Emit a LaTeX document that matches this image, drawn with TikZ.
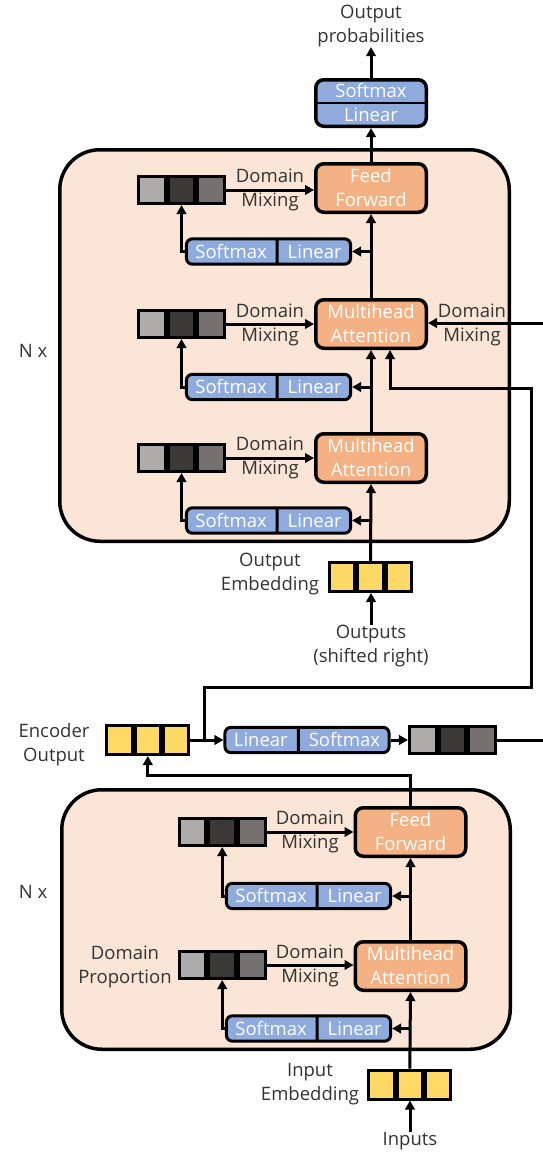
\documentclass[tikz,border=0pt]{standalone}
\usepackage{fontspec}
\setmainfont{Open Sans}
\usetikzlibrary{arrows.meta, positioning, shapes.multipart}

\definecolor{PeachBg}{HTML}{FBE5D6}
\definecolor{BlockBlue}{HTML}{8FAADC}
\definecolor{BlockOrange}{HTML}{F4B183}
\definecolor{EmbYellow}{HTML}{FFD966}
\definecolor{CellLight}{HTML}{AEABAB}
\definecolor{CellDark}{HTML}{3B3838}
\definecolor{CellMid}{HTML}{767171}
\definecolor{TextGray}{HTML}{333333}

\tikzset{
  layerbox/.style={draw, line width=3.5pt, fill=PeachBg, rounded corners=40pt},
  opbox/.style={draw, line width=3.5pt, fill=BlockOrange, rounded corners=8pt, minimum width=110.5pt, minimum height=48.5pt, text=white, align=center, inner sep=0pt},
  slbox/.style={rectangle split, rectangle split horizontal, rectangle split parts=2, rectangle split part align=base, draw, line width=3pt, fill=BlockBlue, rounded corners=6pt, text=white, inner xsep=9pt, inner ysep=5.5pt},
  divider/.style={line width=2pt},
  cell/.style={draw, line width=3pt, minimum width=26.7pt, minimum height=27pt, inner sep=0pt},
  ycell/.style={cell, fill=EmbYellow, minimum width=25.3pt, minimum height=29pt},
  lbl/.style={align=center, text=TextGray, inner sep=0pt},
  arr/.style={-{Triangle[length=9pt, width=9.5pt]}, line width=3pt},
  wire/.style={line width=3pt}
}

\begin{document}
\begin{tikzpicture}[x=1pt, y=-1pt, every node/.style={font=\fontsize{18.5}{24}\selectfont}]
  \useasboundingbox (0,0) rectangle (542,1152);

  % stacks
  \draw[layerbox] (59.75,149.75) rectangle (509.25,541.25);
  \draw[layerbox] (61.75,789.75) rectangle (510.25,1049.25);
  \node[lbl] (decn) at (33,351) {N x};
  \node[lbl] (encn) at (33,892) {N x};

  % decoder
  \node[lbl] (outprob) at (371,26) {Output\\probabilities};
  \node[opbox, fill=BlockBlue, minimum height=46.5pt] (tp) at (371,103) {Softmax\\Linear};
  \draw[divider] (tp.west) -- (tp.east);

  \node[opbox] (ff3) at (371,188) {Feed\\Forward};
  \node[cell, fill=CellLight] (g3a) at (151.8,190) {};
  \node[cell, fill=CellDark, right=0pt of g3a] (g3b) {};
  \node[cell, fill=CellMid, right=0pt of g3b] (g3c) {};
  \node[lbl] (dm3) at (270,190) {Domain\\Mixing};
  \node[slbox] (sl3) at (268.5,251.5) {Softmax\nodepart{two}Linear};

  \node[opbox] (ma2) at (371,324) {Multihead\\Attention};
  \node[cell, fill=CellLight] (g2a) at (151.8,324) {};
  \node[cell, fill=CellDark, right=0pt of g2a] (g2b) {};
  \node[cell, fill=CellMid, right=0pt of g2b] (g2c) {};
  \node[lbl] (dm2) at (270,325) {Domain\\Mixing};
  \node[lbl] (dm2r) at (472,325) {Domain\\Mixing};
  \node[slbox] (sl2) at (268.5,387) {Softmax\nodepart{two}Linear};

  \node[opbox] (ma1) at (371,458) {Multihead\\Attention};
  \node[cell, fill=CellLight] (g1a) at (151.8,458) {};
  \node[cell, fill=CellDark, right=0pt of g1a] (g1b) {};
  \node[cell, fill=CellMid, right=0pt of g1b] (g1c) {};
  \node[lbl] (dm1) at (270,458) {Domain\\Mixing};
  \node[slbox] (sl1) at (268.5,520.5) {Softmax\nodepart{two}Linear};

  \node[ycell] (oea) at (342.2,577) {};
  \node[ycell, right=0pt of oea] (oeb) {};
  \node[ycell, right=0pt of oeb] (oec) {};
  \node[lbl] (oelbl) at (270,574) {Output\\Embedding};
  \node[lbl] (outs) at (371,646) {Outputs\\(shifted right)};

  \draw[arr] (outs.north) -- (outs.north |- oeb.south);
  \draw[arr] (oeb.north) -- (ma1.south);
  \draw[arr] (ma1.north) -- (ma2.south);
  \draw[arr] (ma2.north) -- (ff3.south);
  \draw[arr] (ff3.north) -- (tp.south);
  \draw[arr] (tp.north) -- (outprob.south);
  \draw[arr] (g3c.east) -- (g3c.east -| ff3.west);
  \draw[arr] (g2c.east) -- (g2c.east -| ma2.west);
  \draw[arr] (g1c.east) -- (g1c.east -| ma1.west);
  \draw[arr] (sl3.east -| ff3.south) -- (sl3.east);
  \draw[arr] (sl2.east -| ma2.south) -- (sl2.east);
  \draw[arr] (sl1.east -| ma1.south) -- (sl1.east);
  \draw[arr] (sl3.west) -| (g3b.south);
  \draw[arr] (sl2.west) -| (g2b.south);
  \draw[arr] (sl1.west) -| (g1b.south);
  \coordinate (decin) at (544,323);
  \draw[arr] (decin) -- (decin -| ma2.east);

  % encoder output
  \node[ycell] (eoa) at (119.5,740) {};
  \node[ycell, right=0pt of eoa] (eob) {};
  \node[ycell, right=0pt of eob] (eoc) {};
  \node[lbl] (eolbl) at (54,745) {Encoder\\Output};
  \node[slbox] (ls) at (307,740) {Linear\nodepart{two}Softmax};
  \node[cell, fill=CellLight] (g0a) at (422.8,740) {};
  \node[cell, fill=CellDark, right=0pt of g0a] (g0b) {};
  \node[cell, fill=CellMid, right=0pt of g0b] (g0c) {};
  \coordinate (eobr) at (204,740);
  \coordinate (encout) at (544,740);

  \draw[arr] (eoc.east) -- (ls.west);
  \draw[arr] (ls.east) -- (g0a.west);
  \draw[wire] (g0c.east) -- (encout);
  \draw[arr] (eobr) |- (531,687) |- (390,388) -- ([xshift=19pt]ma2.south);

  % encoder
  \node[opbox] (eff) at (410.5,832) {Feed\\Forward};
  \node[cell, fill=CellLight] (eg2a) at (192.5,832) {};
  \node[cell, fill=CellDark, right=0pt of eg2a] (eg2b) {};
  \node[cell, fill=CellMid, right=0pt of eg2b] (eg2c) {};
  \node[lbl] (edm2) at (310,832) {Domain\\Mixing};
  \node[slbox] (esl2) at (308.5,896) {Softmax\nodepart{two}Linear};

  \node[opbox] (ema) at (410.5,966) {Multihead\\Attention};
  \node[cell, fill=CellLight] (eg1a) at (192.5,965) {};
  \node[cell, fill=CellDark, right=0pt of eg1a] (eg1b) {};
  \node[cell, fill=CellMid, right=0pt of eg1b] (eg1c) {};
  \node[lbl] (edm1) at (310,966) {Domain\\Mixing};
  \node[lbl] (dprop) at (125,967) {Domain\\Proportion};
  \node[slbox] (esl1) at (308.5,1028.5) {Softmax\nodepart{two}Linear};

  \node[ycell] (iea) at (381.5,1084.5) {};
  \node[ycell, right=0pt of iea] (ieb) {};
  \node[ycell, right=0pt of ieb] (iec) {};
  \node[lbl] (ielbl) at (310,1084) {Input\\Embedding};
  \node[lbl] (ins) at (410,1141) {Inputs};

  \draw[arr] (ins.north) -- (ins.north |- ieb.south);
  \draw[arr] (ieb.north) -- (ema.south);
  \draw[arr] (ema.north) -- (eff.south);
  \draw[arr] (eff.north) -- ++(0,-31) -| (eob.south);
  \draw[arr] (eg2c.east) -- (eg2c.east -| eff.west);
  \draw[arr] (eg1c.east) -- (eg1c.east -| ema.west);
  \draw[arr] (esl2.east -| eff.south) -- (esl2.east);
  \draw[arr] (esl1.east -| ema.south) -- (esl1.east);
  \draw[arr] (esl2.west) -| (eg2b.south);
  \draw[arr] (esl1.west) -| (eg1b.south);
\end{tikzpicture}
\end{document}
